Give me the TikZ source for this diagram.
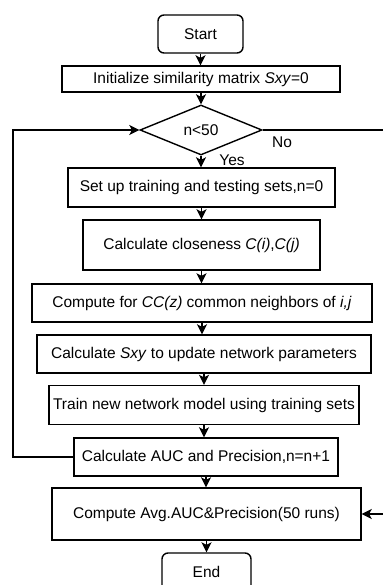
\documentclass[tikz,border=0pt]{standalone}
\usepackage{fontspec}
\setmainfont{Liberation Sans}
\usetikzlibrary{shapes.geometric,arrows.meta}
\begin{document}
\begin{tikzpicture}[x=1pt,y=-1pt,
  font=\fontsize{15.5}{18}\selectfont,
  every node/.style={inner sep=0pt},
  box/.style={draw,line width=1.4pt,rectangle,align=center},
  term/.style={box,rounded corners=6pt},
  decide/.style={draw,line width=1.4pt,diamond,aspect=2.44,minimum width=122pt,minimum height=50pt},
  flow/.style={line width=1.4pt,-{Stealth[length=10pt,width=10pt,inset=2.5pt]}},
  lbl/.style={font=\fontsize{15.5}{18}\selectfont}]
\useasboundingbox (0,0) rectangle (382,585);
\fill[white] (0,0) rectangle (382,585);

% main column of steps
\node[term, minimum width=85pt, minimum height=38pt] (start) at (200.5,34) {Start};
\node[box, minimum width=278pt, minimum height=26pt] (init) at (201,79) {Initialize similarity matrix \textit{Sxy}=0};
\node[decide] (dec) at (201,130) {n<50};
\node[box, minimum width=267pt, minimum height=39pt] (setup) at (201.5,187.5) {Set up training and testing sets,n=0};
\node[box, minimum width=237pt, minimum height=50pt] (close) at (201.5,245) {Calculate closeness \textit{C(i)},\textit{C(j)}};
\node[box, minimum width=340pt, minimum height=38pt] (cc) at (202,303) {Compute for \textit{CC(z)} common neighbors of \textit{i,j}};
\node[box, minimum width=334pt, minimum height=38pt] (sxy) at (204,354) {Calculate \textit{Sxy} to update network parameters};
\node[box, minimum width=310pt, minimum height=39pt] (train) at (204,405) {Train new network model using training sets};
\node[box, minimum width=264pt, minimum height=38pt] (auc) at (206,457) {Calculate AUC and Precision,n=n+1};
\node[box, minimum width=309pt, minimum height=52pt] (avg) at (206.5,514) {Compute Avg.AUC\&Precision(50 runs)};
\node[term, minimum width=89pt, minimum height=38pt] (end) at (206.5,572) {End};

% branch labels
\node[lbl] (nolbl) at (282,142) {No};
\node[lbl] (yeslbl) at (232,160) {Yes};

% straight arrows down the column
\draw[flow] (start.south) -- (start.south |- init.north);
\draw[flow] (init.south) -- (init.south |- dec.north);
\draw[flow] (dec.south) -- (dec.south |- setup.north);
\draw[flow] (setup.south) -- (setup.south |- close.north);
\draw[flow] (close.south) -- (close.south |- cc.north);
\draw[flow] (cc.south) -- (cc.south |- sxy.north);
\draw[flow] (sxy.south) -- (sxy.south |- train.north);
\draw[flow] (train.south) -- (train.south |- auc.north);
\draw[flow] (auc.south) -- (auc.south |- avg.north);
\draw[flow] (avg.south) -- (avg.south |- end.north);

% loop back to the test
\coordinate (loopx) at (13,0);
\draw[flow] (auc.west) -- (auc.west -| loopx) -- (dec.west -| loopx) -- (dec.west);

% exit branch around the right side
\coordinate (exitx) at (386,0);
\draw[flow] (dec.east) -- (dec.east -| exitx) -- (avg.east -| exitx) -- (avg.east);
\end{tikzpicture}
\end{document}
